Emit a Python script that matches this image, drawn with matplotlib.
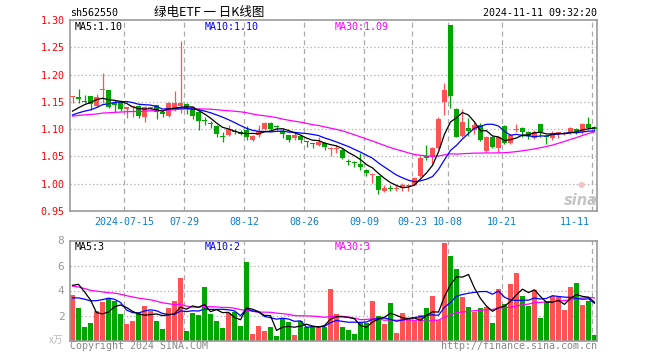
import matplotlib
matplotlib.use('Agg')
import matplotlib.pyplot as plt
import matplotlib.transforms as mtransforms
import numpy as np

# ---------------- data ----------------
tick_pos = [9, 19, 29, 39, 49, 57, 63, 72, 87]
tick_labels = ["2024-07-15", "07-29", "08-12", "08-26", "09-09", "09-23", "10-08", "10-21", "11-11"]

opens = [1.158, 1.158, 1.152, 1.161, 1.143, 1.171, 1.172, 1.148, 1.149, 1.137,
         1.140, 1.143, 1.122, 1.138, 1.144, 1.132, 1.125, 1.135, 1.143, 1.146,
         1.141, 1.132, 1.116, 1.110, 1.106, 1.087, 1.089, 1.096, 1.093, 1.098,
         1.081, 1.089, 1.100, 1.112, 1.106, 1.097, 1.089, 1.083, 1.087, 1.078,
         1.073, 1.071, 1.074, 1.064, 1.064, 1.062, 1.041, 1.039, 1.036, 1.025,
         1.016, 1.014, 0.986, 0.992, 0.990, 0.993, 0.995, 0.998, 1.014, 1.049,
         1.050, 1.066, 1.149, 1.291, 1.137, 1.088, 1.103, 1.099, 1.108, 1.060,
         1.086, 1.066, 1.106, 1.075, 1.099, 1.103, 1.094, 1.084, 1.109, 1.087,
         1.083, 1.092, 1.091, 1.093, 1.101, 1.094, 1.109, 1.104]
highs = [1.161, 1.174, 1.162, 1.161, 1.164, 1.202, 1.172, 1.153, 1.153, 1.141,
         1.141, 1.144, 1.142, 1.140, 1.145, 1.133, 1.150, 1.170, 1.2615, 1.147,
         1.142, 1.133, 1.123, 1.115, 1.107, 1.094, 1.108, 1.100, 1.099, 1.105,
         1.090, 1.108, 1.113, 1.113, 1.108, 1.102, 1.090, 1.093, 1.089, 1.079,
         1.074, 1.086, 1.076, 1.068, 1.071, 1.066, 1.045, 1.042, 1.056, 1.027,
         1.019, 1.015, 0.998, 0.998, 0.997, 1.001, 0.999, 1.013, 1.050, 1.071,
         1.068, 1.123, 1.184, 1.291, 1.138, 1.137, 1.120, 1.114, 1.112, 1.087,
         1.088, 1.088, 1.108, 1.092, 1.109, 1.104, 1.096, 1.098, 1.110, 1.090,
         1.097, 1.094, 1.094, 1.104, 1.103, 1.111, 1.123, 1.105]
lows = [1.148, 1.147, 1.147, 1.135, 1.141, 1.147, 1.138, 1.131, 1.134, 1.120,
        1.122, 1.121, 1.114, 1.137, 1.119, 1.122, 1.122, 1.133, 1.129, 1.128,
        1.119, 1.098, 1.108, 1.103, 1.086, 1.077, 1.088, 1.091, 1.090, 1.081,
        1.079, 1.086, 1.098, 1.097, 1.099, 1.083, 1.077, 1.081, 1.074, 1.068,
        1.066, 1.070, 1.062, 1.051, 1.056, 1.046, 1.035, 1.031, 1.025, 1.015,
        1.001, 0.982, 0.984, 0.987, 0.987, 0.986, 0.986, 0.997, 1.013, 1.044,
        1.037, 1.064, 1.126, 1.138, 1.085, 1.085, 1.088, 1.092, 1.079, 1.059,
        1.065, 1.059, 1.072, 1.073, 1.094, 1.086, 1.082, 1.082, 1.086, 1.072,
        1.080, 1.083, 1.089, 1.091, 1.092, 1.092, 1.101, 1.098]
closes = [1.160, 1.155, 1.150, 1.146, 1.159, 1.173, 1.141, 1.145, 1.136, 1.141,
          1.141, 1.125, 1.141, 1.139, 1.132, 1.127, 1.147, 1.147, 1.147, 1.137,
          1.125, 1.115, 1.115, 1.109, 1.092, 1.086, 1.100, 1.095, 1.092, 1.086,
          1.088, 1.097, 1.112, 1.100, 1.104, 1.091, 1.081, 1.090, 1.080, 1.076,
          1.072, 1.077, 1.068, 1.065, 1.065, 1.048, 1.040, 1.038, 1.030, 1.019,
          1.018, 0.989, 0.993, 0.991, 0.993, 0.997, 0.996, 1.010, 1.048, 1.048,
          1.066, 1.119, 1.172, 1.161, 1.086, 1.114, 1.096, 1.108, 1.081, 1.086,
          1.067, 1.086, 1.075, 1.090, 1.101, 1.094, 1.088, 1.094, 1.094, 1.086,
          1.093, 1.093, 1.092, 1.103, 1.096, 1.109, 1.103, 1.100]
volumes = [3.64, 2.63, 1.11, 1.43, 2.36, 3.11, 3.40, 3.19, 2.15, 1.35,
           1.59, 2.28, 2.76, 2.39, 1.59, 0.95, 2.57, 3.19, 5.03, 0.79,
           2.23, 2.07, 4.31, 2.15, 1.59, 1.03, 2.17, 2.31, 1.19, 6.31,
           0.55, 1.19, 0.79, 1.11, 0.39, 1.83, 1.51, 0.47, 1.59, 1.11,
           1.11, 1.11, 1.05, 4.12, 2.12, 1.08, 0.84, 0.52, 1.43, 1.43,
           3.19, 1.96, 1.32, 3.00, 0.60, 2.17, 1.72, 1.53, 2.04, 2.60,
           3.56, 1.64, 7.77, 6.76, 5.72, 3.48, 2.68, 2.31, 2.60, 2.68,
           1.40, 4.12, 2.92, 4.52, 5.40, 3.56, 2.76, 4.04, 1.80, 3.16,
           3.56, 3.48, 2.44, 4.28, 4.60, 2.84, 3.16, 0.44]
# closes / volumes of the 29 sessions before the window (needed for the moving averages)
prev_closes = [1.118, 1.121, 1.125, 1.128, 1.126, 1.124, 1.122, 1.120, 1.123, 1.127,
               1.125, 1.122, 1.119, 1.121, 1.124, 1.126, 1.123, 1.121, 1.120, 1.122,
               1.117, 1.119, 1.121, 1.118, 1.120, 1.124, 1.122, 1.125, 1.134]
prev_volumes = [5.2, 4.6, 5.8, 4.3, 4.9, 5.5, 4.1, 4.7, 5.0, 4.4,
                5.3, 4.8, 4.2, 5.1, 4.6, 4.9, 5.4, 4.5, 4.7, 4.8,
                2.6, 2.1, 2.8, 2.2, 2.3, 2.2, 4.1, 4.7, 7.4]

# ---------------- helpers ----------------
W, H = 660, 360
RED = '#ff5252'
GREEN = '#00a600'
GRID = '#aaaaaa'
MONO = 'DejaVu Sans Mono'
FS = 7.2

n = len(closes)
idx = np.arange(n)
o = np.array(opens); h = np.array(highs); l = np.array(lows); c = np.array(closes)
v = np.array(volumes)


def moving_avg(prev, cur, k):
    full = np.array(prev + cur, dtype=float)
    out = np.convolve(full, np.ones(k) / k, mode='valid')
    return out[-len(cur):]


ma5 = moving_avg(prev_closes, closes, 5)
ma10 = moving_avg(prev_closes, closes, 10)
ma30 = moving_avg(prev_closes, closes, 30)
vma5 = moving_avg(prev_volumes, volumes, 5)
vma10 = moving_avg(prev_volumes, volumes, 10)
vma30 = moving_avg(prev_volumes, volumes, 30)

up = c >= o
colors = [RED if u else GREEN for u in up]

fig = plt.figure(figsize=(6.6, 3.6), dpi=100)
fig.patch.set_facecolor('white')

ax = fig.add_axes([70 / W, 1 - 211 / H, 527 / W, 191 / H])
axv = fig.add_axes([70 / W, 1 - 340.5 / H, 527 / W, 100 / H])

xl = (-0.417, 87.417)
bw = 0.83
grid_x = [p - 0.37 for p in tick_pos]

for a in (ax, axv):
    a.set_xlim(*xl)
    for s in a.spines.values():
        s.set_color('#999999')
        s.set_linewidth(1.2)
    a.tick_params(length=0)
    a.set_xticks([])
    for gx in grid_x:
        a.axvline(gx, color=GRID, lw=0.9, ls=(0, (4, 3)), zorder=0)

# ---- main (candles) ----
ax.set_ylim(0.95, 1.30)
for gy in [1.00, 1.05, 1.10, 1.15, 1.20, 1.25]:
    ax.axhline(gy, color=GRID, lw=0.9, ls=(0, (1, 2)), zorder=0)
ax.vlines(idx, l, h, colors=colors, lw=0.9, zorder=2)
body_bottom = np.minimum(o, c)
body_h = np.maximum(np.abs(c - o), 0.0019)
ax.bar(idx, body_h, bottom=body_bottom, width=bw, color=colors, lw=0, zorder=3)
ax.plot(idx, ma30, color='#ff00ff', lw=0.9, zorder=4)
ax.plot(idx, ma10, color='#0000ff', lw=0.9, zorder=4)
ax.plot(idx, ma5, color='black', lw=0.9, zorder=4)

yt = [0.95, 1.00, 1.05, 1.10, 1.15, 1.20, 1.25, 1.30]
ax.set_yticks(yt, [f'{t:.2f}' for t in yt])
ax.tick_params(axis='y', labelcolor='#ff0000', labelsize=FS, pad=4)
for t in ax.get_yticklabels():
    t.set_fontfamily(MONO)

# date labels
trans = mtransforms.blended_transform_factory(ax.transData, fig.transFigure)
for p, lab in zip(grid_x, tick_labels):
    if lab == "11-11":
        ax.text((590 - 72.5) / 6, 1 - 221.7 / H, lab, transform=trans, ha='right', va='center',
                fontsize=FS, family=MONO, color='#0a7fd0')
    else:
        ax.text(p, 1 - 221.7 / H, lab, transform=trans, ha='center', va='center',
                fontsize=FS, family=MONO, color='#0a7fd0')

# ---- volume ----
axv.set_ylim(0, 8)
for gy in [2, 4, 6]:
    axv.axhline(gy, color=GRID, lw=0.9, ls=(0, (1, 2)), zorder=0)
axv.bar(idx, v, width=bw, color=colors, lw=0, zorder=2)
axv.plot(idx, vma30, color='#ff00ff', lw=0.9, zorder=3)
axv.plot(idx, vma10, color='#0000ff', lw=0.9, zorder=3)
axv.plot(idx, vma5, color='black', lw=0.9, zorder=3)
axv.set_yticks([2, 4, 6, 8], ['2', '4', '6', '8'])
axv.tick_params(axis='y', labelcolor='#999999', labelsize=FS + 0.8, pad=4)
for t in axv.get_yticklabels():
    t.set_fontfamily(MONO)


def ftext(x, y, s, **kw):
    kw.setdefault('fontsize', FS)
    kw.setdefault('family', MONO)
    kw.setdefault('va', 'center')
    fig.text(x / W, 1 - y / H, s, **kw)


# header
ftext(70, 13.3, 'sh562550', color='black')
ftext(209, 12.5, '绿电ETF 一 日K线图', ha='center', fontsize=9,
      family=['Noto Sans CJK SC', 'DejaVu Sans'], color='black')
ftext(597, 12.5, '2024-11-11 09:32:20', ha='right', color='black')

# MA legends
ftext(75, 26.5, f'MA5:{ma5[-1]:.2f}', color='black')
ftext(205, 26.5, f'MA10:{ma10[-1]:.2f}', color='#0000ff')
ftext(335, 26.5, f'MA30:{ma30[-1]:.2f}', color='#ff00ff')
ftext(75, 246.5, f'MA5:{int(vma5[-1])}', color='black')
ftext(205, 246.5, f'MA10:{int(vma10[-1])}', color='#0000ff')
ftext(335, 246.5, f'MA30:{int(vma30[-1])}', color='#ff00ff')

# unit and footer
ftext(63, 340, 'x万', ha='right', color='#bbbbbb', fontsize=7,
      family=['Noto Sans CJK SC', 'DejaVu Sans'])
ftext(70, 346, 'Copyright 2024 SINA.COM', color='#888888')
ftext(597, 346, 'http://finance.sina.com.cn', ha='right', color='#888888')

# sina watermark
ftext(581, 185, '●', ha='center', fontsize=6, family='DejaVu Sans', color='#f3c4c4')
ftext(581, 200.5, 'sina', ha='center', fontsize=10.5, family='DejaVu Sans',
      style='italic', weight='bold', color='#c4c4c4')

fig.savefig('out.png', dpi=100, facecolor='white')
